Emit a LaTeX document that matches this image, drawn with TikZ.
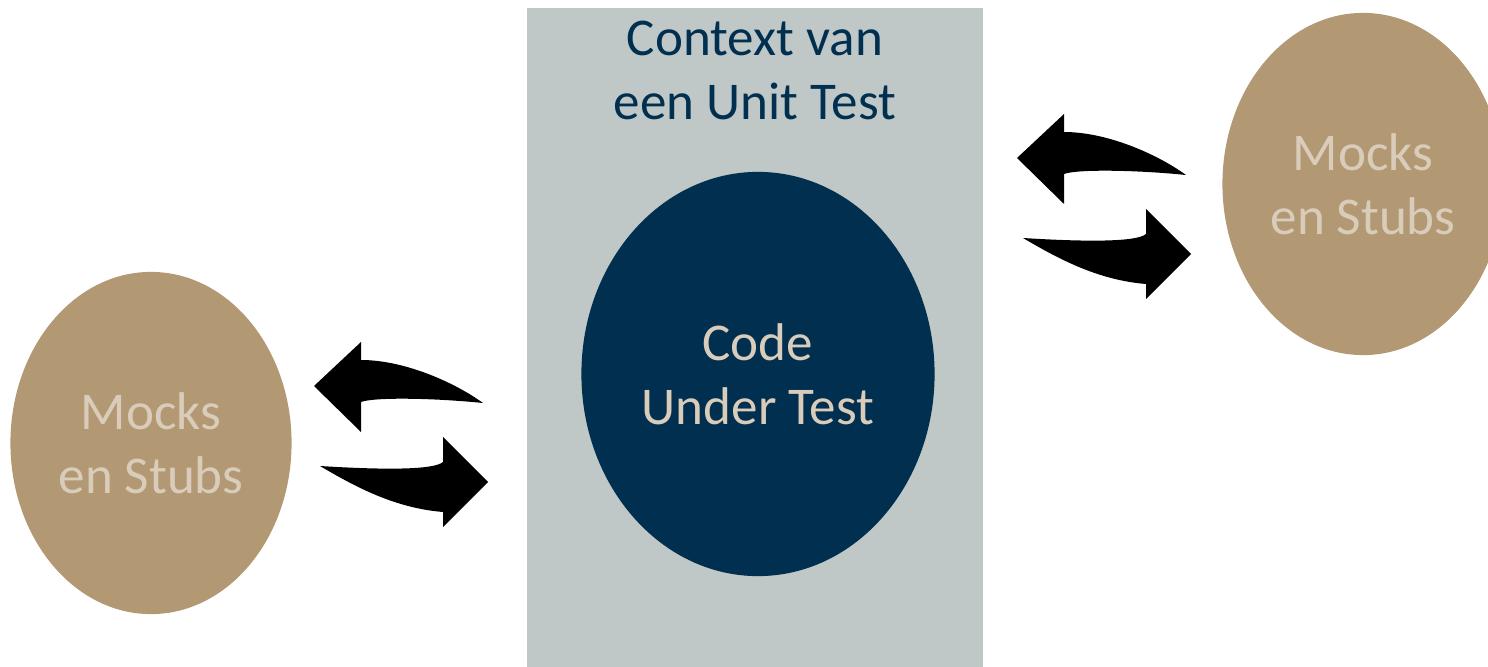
\documentclass[tikz,border=0pt]{standalone}
\usepackage{fontspec}
\setmainfont{Carlito}
\usepackage{tikz}
\usetikzlibrary{shapes.geometric, positioning}
\definecolor{ctxgray}{RGB}{191,200,198}
\definecolor{navyblue}{RGB}{0,47,79}
\definecolor{mocktan}{RGB}{179,152,116}
\definecolor{sandtext}{RGB}{217,204,186}
\tikzset{
    bigtext/.style={font=\fontsize{15.1}{18.2}\selectfont, align=center},
    codeblob/.style={ellipse, fill=navyblue, minimum width=3.53cm, minimum height=4.04cm, inner sep=0pt, text=sandtext, bigtext},
    mockblob/.style={ellipse, fill=mocktan, minimum width=2.81cm, minimum height=3.42cm, inner sep=0pt, text=sandtext, bigtext},
    swaparrows/.pic={
        % left-pointing curved arrow on top
        \fill (0,0) -- (47,-44) -- (47,-26) .. controls (90,-26) and (140,-4) .. (169,17)
              .. controls (120,12) and (60,11) .. (47,16) -- (47,46) -- cycle;
        % right-pointing curved arrow below
        \fill (6,80) .. controls (70,84) and (120,84) .. (129,76) -- (129,51) -- (174,96)
              -- (129,141) -- (129,126) .. controls (80,122) and (40,100) .. (6,80) -- cycle;
    }
}

\begin{document}
\begin{tikzpicture}[x=0.01cm, y=-0.01cm]
    \useasboundingbox (0,0) rectangle (1488,667);
    \clip (0,0) rectangle (1488,667);

    \fill[ctxgray] (527,8) rectangle (983,667);
    \node (ctx) [bigtext, text=navyblue] at (755,70) {Context van\\een Unit Test};

    \node (cut) [codeblob] at (758,374) {Code\\Under Test};
    \node (mockl) [mockblob] at (151,443) {Mocks\\en Stubs};
    \node (mockr) [mockblob] at (1363,184) {Mocks\\en Stubs};

    \pic at (314,386) {swaparrows};
    \pic at (1017,158) {swaparrows};
\end{tikzpicture}
\end{document}
